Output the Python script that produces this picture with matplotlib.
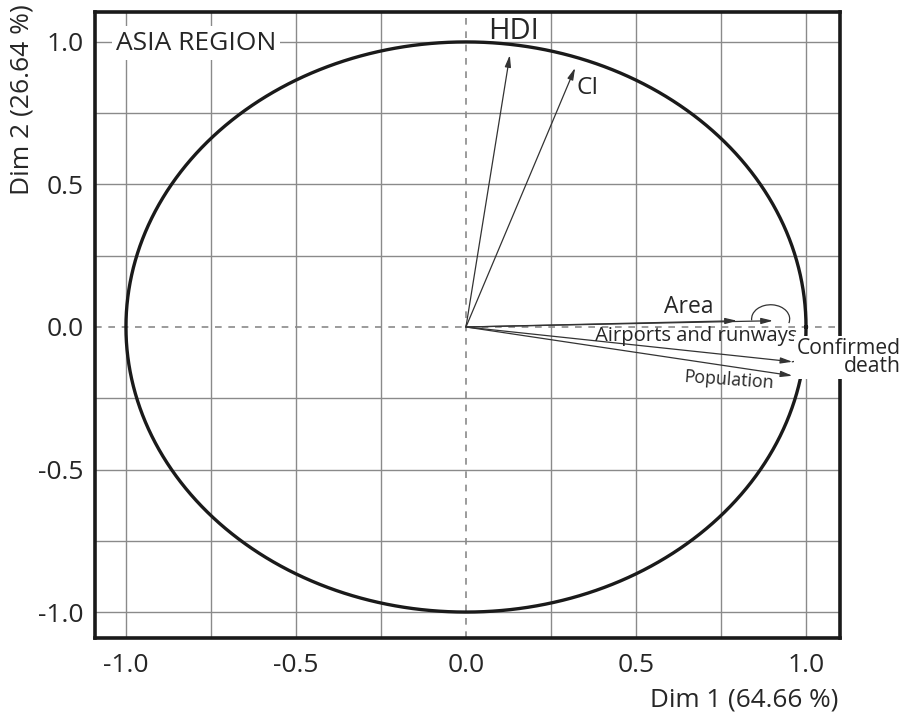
import numpy as np
import matplotlib
matplotlib.use("Agg")
import matplotlib.pyplot as plt
from matplotlib.patches import Arc

plt.rcParams['font.family'] = ['Open Sans', 'DejaVu Sans']

# Variables (loadings on Dim 1, Dim 2)
variables = ["HDI", "CI", "Area", "Airports and runways", "Confirmed death", "Population"]
dim1 = [0.129, 0.321, 0.903, 0.797, 0.960, 0.960]
dim2 = [0.954, 0.909, 0.022, 0.022, -0.122, -0.171]

tick_vals = [-1.0, -0.5, 0.0, 0.5, 1.0]
tick_labels = ["-1.0", "-0.5", "0.0", "0.5", "1.0"]
grid_vals = [-1.0, -0.75, -0.5, -0.25, 0.25, 0.5, 0.75, 1.0]

xlabel = "Dim 1 (64.66 %)"
ylabel = "Dim 2 (26.64 %)"
title = "ASIA REGION"

W, H = 906, 717
fig = plt.figure(figsize=(W / 100, H / 100), dpi=100)
ax = fig.add_axes([95 / W, 1 - 638 / H, (840 - 95) / W, (638 - 12) / H])
ax.set_xlim(-1.091, 1.1)
ax.set_ylim(-1.091, 1.105)

for g in grid_vals:
    ax.axvline(g, color="#8a8a8a", lw=1.0, zorder=1)
    ax.axhline(g, color="#8a8a8a", lw=1.0, zorder=1)
ax.axvline(0, color="#8a8a8a", lw=1.2, ls=(0, (4, 4)), zorder=1)
ax.axhline(0, color="#8a8a8a", lw=1.2, ls=(0, (4, 4)), zorder=1)

theta = np.linspace(0, 2 * np.pi, 721)
ax.plot(np.cos(theta), np.sin(theta), color="#1a1a1a", lw=2.4, zorder=3)

for x, y in zip(dim1, dim2):
    ax.annotate("", xy=(x, y), xytext=(0, 0),
                arrowprops=dict(arrowstyle="-|>,head_length=0.7,head_width=0.18",
                                color="#333333", lw=0.9, shrinkA=0, shrinkB=0),
                zorder=4)

# small loop near Area arrows
ax.add_patch(Arc((0.896, 0.028), 0.112, 0.10, theta1=-15, theta2=185,
                 color="#333333", lw=0.9, zorder=4))
# leader line from Confirmed death arrow to its label
ax.plot([dim1[4], 1.04], [dim2[4], -0.102], color="#333333", lw=0.9, zorder=4)

tc = "#262626"
ax.text(0.141, 1.035, "HDI", fontsize=21, ha="center", va="center", color=tc, zorder=6)
ax.text(0.358, 0.839, "CI", fontsize=17.5, ha="center", va="center", color=tc, zorder=6)
ax.text(0.655, 0.07, "Area", fontsize=16.5, ha="center", va="center", color=tc, zorder=6)
ax.text(0.676, -0.033, "Airports and runways", fontsize=14.6, ha="center", va="center",
        color=tc, zorder=6)
ax.text(1.278, -0.108, "Confirmed\ndeath", fontsize=15.2, ha="right", va="center",
        multialignment="right", linespacing=0.82, color=tc, zorder=6,
        clip_on=False,
        bbox=dict(facecolor="white", edgecolor="none", pad=1.5))
ax.text(0.774, -0.188, "Population", fontsize=12.8, ha="center", va="center",
        rotation=-4, color=tc, zorder=6)
ax.text(-1.03, 0.996, title, fontsize=19, ha="left", va="center", color=tc,
        zorder=6, bbox=dict(facecolor="white", edgecolor="none", pad=3))

ax.set_xticks(tick_vals)
ax.set_xticklabels(tick_labels)
ax.set_yticks(tick_vals)
ax.set_yticklabels(tick_labels)
ax.tick_params(length=0, labelsize=19, colors=tc)
ax.tick_params(axis="x", pad=11)
ax.tick_params(axis="y", pad=8)

for s in ax.spines.values():
    s.set_linewidth(2.6)
    s.set_color("#1a1a1a")
    s.set_zorder(5)

fig.text(22 / W, 1 - 4 / H, ylabel, rotation=90, fontsize=19, ha="center", va="top", color=tc)
fig.text(838 / W, 1 - 700 / H, xlabel, fontsize=18.8, ha="right", va="center", color=tc)

fig.savefig("out.png", dpi=100)
